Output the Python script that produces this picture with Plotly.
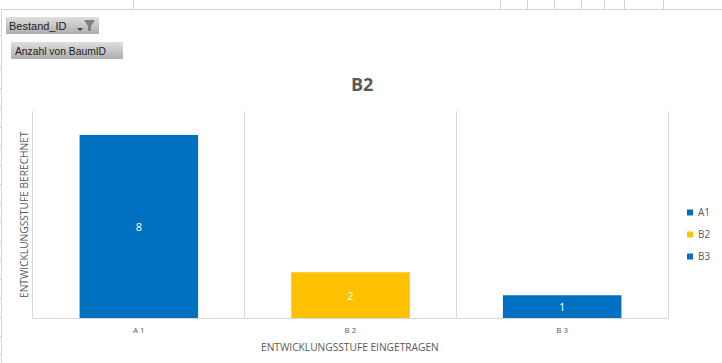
import plotly.graph_objects as go

W, H = 722, 363
categories = ["A 1", "B 2", "B 3"]
legend_names = ["A1", "B2", "B3"]
values = [8, 2, 1]
colors = ["#0070C0", "#FFC000", "#0070C0"]
title = "B2"
x_title = "ENTWICKLUNGSSTUFE EINGETRAGEN"
y_title = "ENTWICKLUNGSSTUFE BERECHNET"
button_labels = ["Bestand_ID", "Anzahl von BaumID"]
sheet_col_lines = [133, 500, 527, 554, 581, 604, 624, 663]
sheet_row_lines = [35, 68, 88, 107, 127, 145, 165, 184, 203, 222, 241, 260, 279, 298, 317, 336, 354]

FONT = "Open Sans"
TXT = "#595959"
GRID = "#D9D9D9"
L, R, T, B = 33, 668, 111, 318
px = lambda v: (v - L) / (R - L)
py = lambda v: (B - v) / (B - T)

fig = go.Figure()
xs = list(range(len(categories)))
for i, (cat, v, c) in enumerate(zip(categories, values, colors)):
    fig.add_trace(go.Bar(
        x=[xs[i]], y=[v], width=0.56, marker=dict(color=c, line_width=0),
        text=[str(v)], textposition="inside", insidetextanchor="middle", textangle=0,
        textfont=dict(color="white", size=11, family=FONT),
        showlegend=False, hoverinfo="x+y"))
for name, c in zip(legend_names, colors):
    # legend-only entry: a thick dashed line gives a small square right next to the label
    fig.add_trace(go.Scatter(
        x=[None], y=[None], mode="lines", name=name, legendgroup=name,
        line=dict(color=c, width=6, dash="0px,24px,6px,50px")))

shapes = []
def line(x0, y0, x1, y1, color="#D4D4D4", w=1):
    shapes.append(dict(type="line", xref="paper", yref="paper", x0=px(x0), x1=px(x1),
                       y0=py(y0), y1=py(y1), line=dict(color=color, width=w), layer="below"))
# worksheet frame around the chart
line(1.5, 9.5, 722, 9.5)
line(1.5, 9.5, 1.5, 363)
for cx in sheet_col_lines:
    line(cx + .5, 0, cx + .5, 9)
for ry in sheet_row_lines:
    line(0, ry + .5, 1, ry + .5)

def button(x0, y0, x1, y1):
    n = y1 - y0
    for k in range(n):
        t = k / max(n - 1, 1)
        g = int(222 - (222 - 176) * t)
        shapes.append(dict(type="rect", xref="paper", yref="paper", x0=px(x0), x1=px(x1),
                           y0=py(y0 + k), y1=py(y0 + k + 1), line_width=0,
                           fillcolor=f"rgb({g},{g},{g})", layer="below"))
button(6, 17, 99, 34)
button(11, 42, 123, 59)
def path(pts, color):
    d = "M" + "L".join(f"{px(a):.5f},{py(b):.5f}" for a, b in pts) + "Z"
    shapes.append(dict(type="path", xref="paper", yref="paper", path=d, fillcolor=color, line_width=0))
path([(84, 20), (95, 20), (91, 26), (91, 31), (88, 31), (88, 26)], "#7F7F7F")
path([(77, 28), (83, 28), (80, 31)], "#404040")

annotations = [
    dict(text=button_labels[0], x=px(7), y=py(26), xanchor="left", yanchor="middle", showarrow=False,
         font=dict(family="Liberation Sans", size=11, color="#202020"), xref="paper", yref="paper"),
    dict(text=button_labels[1], x=px(13), y=py(51), xanchor="left", yanchor="middle", showarrow=False,
         font=dict(family="Liberation Sans", size=10.3, color="#202020"), xref="paper", yref="paper"),
    dict(text=f"<b>{title}</b>", x=px(362), y=py(84), xanchor="center", yanchor="middle", showarrow=False,
         font=dict(family=FONT, size=18, color=TXT), xref="paper", yref="paper"),
    dict(text=x_title, x=px(350), y=py(347), xanchor="center", yanchor="middle", showarrow=False,
         font=dict(family=FONT, size=10.2, color=TXT), xref="paper", yref="paper"),
    dict(text=y_title, x=px(24), y=py(215), xanchor="center", yanchor="middle", textangle=-90, showarrow=False,
         font=dict(family=FONT, size=10.2, color=TXT), xref="paper", yref="paper"),
]

fig.update_layout(
    width=W, height=H, autosize=False, paper_bgcolor="white", plot_bgcolor="white",
    margin=dict(l=L, r=W - R, t=T, b=H - B, autoexpand=False),
    barmode="overlay", shapes=shapes, annotations=annotations,
    font=dict(family=FONT, color=TXT),
    xaxis=dict(range=[-0.5, 2.5], tickmode="array", tickvals=xs, ticktext=categories,
               showgrid=False, zeroline=False, showline=True, linecolor=GRID, linewidth=1,
               ticks="", ticklen=0, ticklabelstandoff=4, tickfont=dict(size=8, color=TXT, family=FONT),
               minor=dict(tickmode="array", tickvals=[-0.5, 0.5, 1.5, 2.5], showgrid=True,
                          gridcolor=GRID, gridwidth=1, ticks="")),
    yaxis=dict(range=[0, 9.05], showticklabels=False, showgrid=False, zeroline=False,
               showline=True, mirror=True, linecolor=GRID, linewidth=1, ticks=""),
    legend=dict(xref="container", yref="container", x=658 / W, y=1 - 198 / H,
                xanchor="left", yanchor="top", bgcolor="rgba(0,0,0,0)",
                font=dict(family=FONT, size=10, color=TXT), tracegroupgap=3, itemwidth=30),
)
fig.write_html("out.html", config=dict(displayModeBar=False),
               post_script="document.body.style.margin='0';")
